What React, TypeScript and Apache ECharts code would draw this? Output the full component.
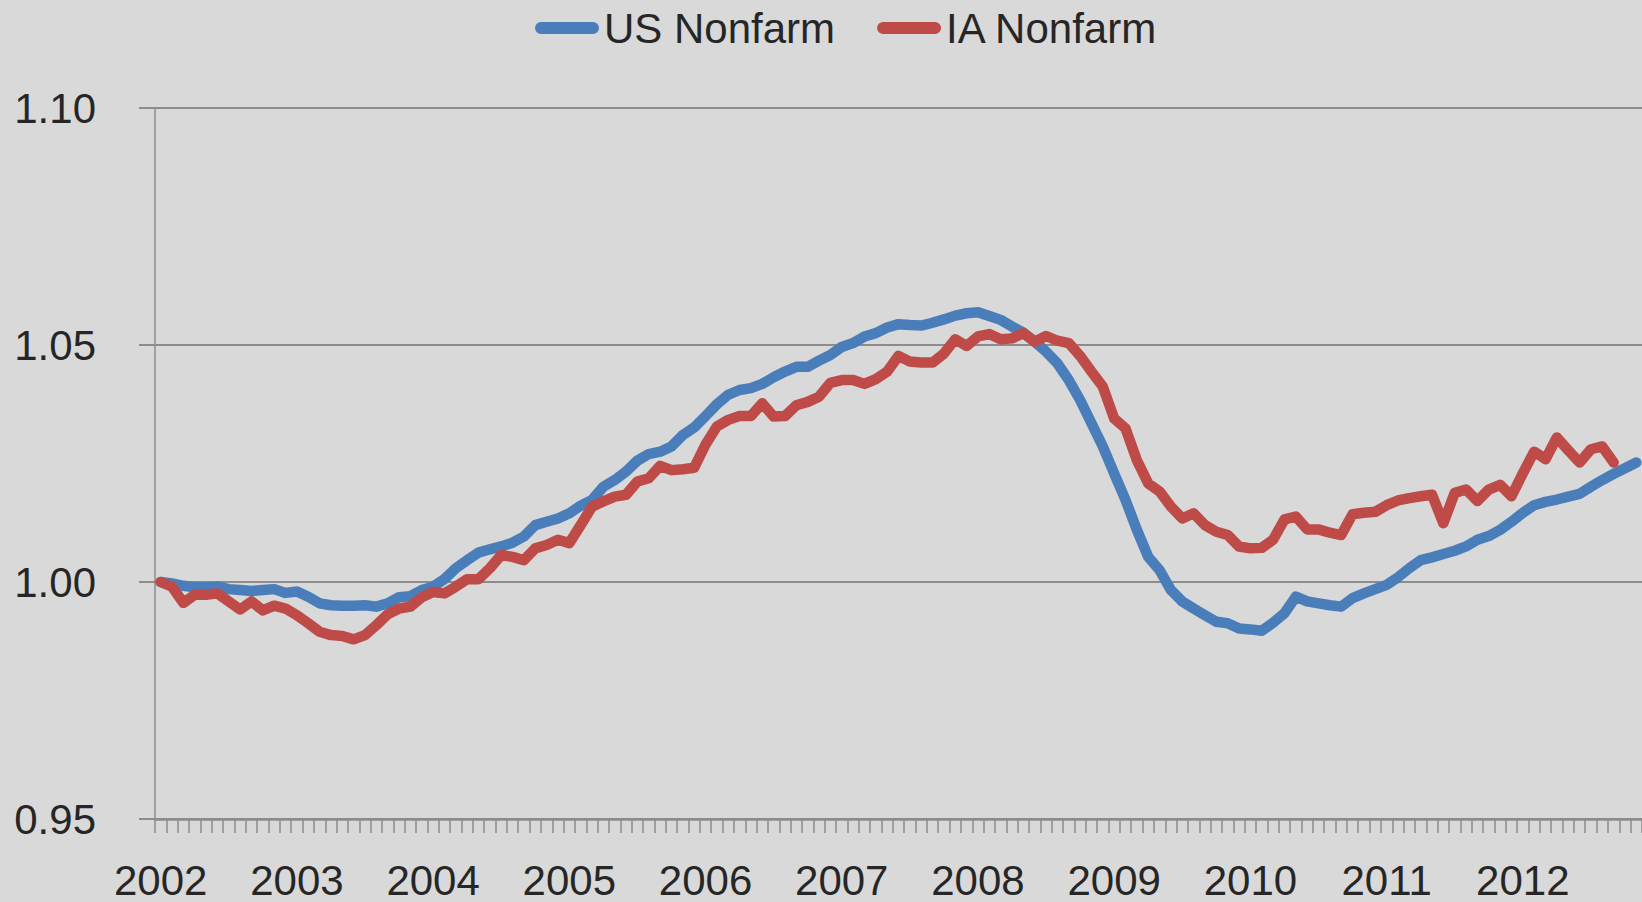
import React, { useEffect, useRef } from "react";
import * as echarts from "echarts";

const YEARS = [2002, 2003, 2004, 2005, 2006, 2007, 2008, 2009, 2010, 2011, 2012];
const MONTHS_IN_LAST_YEAR = 11;

const US_NONFARM = [
  1.0000, 0.9997, 0.9992, 0.9989, 0.9989, 0.9990, 0.9985, 0.9983, 0.9981, 0.9983, 0.9985, 0.9977,
  0.9980, 0.9969, 0.9955, 0.9951, 0.9950, 0.9950, 0.9951, 0.9948, 0.9955, 0.9968, 0.9970, 0.9983,
  0.9990, 1.0006, 1.0029, 1.0046, 1.0062, 1.0069, 1.0075, 1.0083, 1.0096, 1.0120, 1.0127, 1.0134,
  1.0145, 1.0161, 1.0173, 1.0201, 1.0215, 1.0233, 1.0256, 1.0270, 1.0275, 1.0286, 1.0310, 1.0326,
  1.0350, 1.0375, 1.0395, 1.0405, 1.0409, 1.0418, 1.0432, 1.0444, 1.0454, 1.0454, 1.0467, 1.0479,
  1.0496, 1.0504, 1.0518, 1.0525, 1.0537, 1.0544, 1.0542, 1.0541, 1.0547, 1.0554, 1.0562, 1.0567,
  1.0569, 1.0561, 1.0553, 1.0539, 1.0526, 1.0507, 1.0486, 1.0461, 1.0426, 1.0384, 1.0335, 1.0286,
  1.0229, 1.0173, 1.0110, 1.0053, 1.0025, 0.9983, 0.9959, 0.9944, 0.9930, 0.9916, 0.9913, 0.9902,
  0.9900, 0.9897, 0.9914, 0.9934, 0.9969, 0.9959, 0.9955, 0.9951, 0.9948, 0.9966, 0.9976, 0.9985,
  0.9994, 1.0010, 1.0029, 1.0046, 1.0052, 1.0059, 1.0066, 1.0075, 1.0089, 1.0097, 1.0110, 1.0127,
  1.0146, 1.0162, 1.0169, 1.0174, 1.0180, 1.0186, 1.0201, 1.0215, 1.0228, 1.0240, 1.0252,
];

const IA_NONFARM = [
  1.0000, 0.9990, 0.9956, 0.9973, 0.9973, 0.9976, 0.9959, 0.9942, 0.9959, 0.9940, 0.9950, 0.9944,
  0.9930, 0.9913, 0.9895, 0.9888, 0.9886, 0.9879, 0.9888, 0.9909, 0.9932, 0.9944, 0.9948, 0.9968,
  0.9979, 0.9976, 0.9990, 1.0006, 1.0006, 1.0029, 1.0057, 1.0053, 1.0046, 1.0071, 1.0078, 1.0089,
  1.0082, 1.0120, 1.0159, 1.0170, 1.0180, 1.0184, 1.0212, 1.0219, 1.0245, 1.0236, 1.0238, 1.0241,
  1.0290, 1.0328, 1.0342, 1.0350, 1.0350, 1.0377, 1.0349, 1.0350, 1.0373, 1.0380, 1.0391, 1.0420,
  1.0426, 1.0426, 1.0418, 1.0428, 1.0444, 1.0477, 1.0465, 1.0463, 1.0463, 1.0482, 1.0512, 1.0498,
  1.0518, 1.0523, 1.0512, 1.0514, 1.0525, 1.0507, 1.0519, 1.0509, 1.0504, 1.0477, 1.0444, 1.0412,
  1.0345, 1.0324, 1.0257, 1.0208, 1.0191, 1.0159, 1.0134, 1.0145, 1.0120, 1.0106, 1.0099, 1.0075,
  1.0071, 1.0072, 1.0089, 1.0132, 1.0138, 1.0111, 1.0111, 1.0104, 1.0099, 1.0143, 1.0146, 1.0148,
  1.0162, 1.0172, 1.0177, 1.0181, 1.0184, 1.0124, 1.0188, 1.0195, 1.0171, 1.0195, 1.0205, 1.0181,
  1.0229, 1.0275, 1.0259, 1.0305, 1.0278, 1.0252, 1.0280, 1.0286, 1.0252,
];

const Y_MIN = 0.95;
const Y_MAX = 1.1;
const Y_STEP = 0.05;

const CATEGORIES: string[] = [];
YEARS.forEach((y, yi) => {
  const n = yi === YEARS.length - 1 ? MONTHS_IN_LAST_YEAR : 12;
  for (let m = 1; m <= n; m++) CATEGORIES.push(`${y}-${m < 10 ? "0" + m : m}`);
});

const FONT = "'Liberation Sans', Arial, sans-serif";
const TEXT = "#262626";
const AXIS = "#8c8c8c";
const BLUE = "#4a7ebb";
const RED = "#be4b48";

export default function App() {
  const ref = useRef<HTMLDivElement>(null);
  useEffect(() => {
    if (!ref.current) return;
    const chart = echarts.init(ref.current, undefined, { renderer: "svg" });
    const monthW = 11.475;
    const left = 155;
    const right = 1642 - left - monthW * CATEGORIES.length;
    const capsule = "path://M6,0H58A6,6,0,0,1,58,12H6A6,6,0,0,1,6,0Z";
    chart.setOption({
      animation: false,
      backgroundColor: "#d9d9d9",
      textStyle: { fontFamily: FONT },
      legend: {
        left: 530,
        top: 2,
        itemWidth: 64,
        itemHeight: 13,
        itemGap: 42,
        icon: capsule,
        textStyle: { fontSize: 42, color: TEXT, fontFamily: FONT },
        data: [
          { name: "US Nonfarm", icon: capsule, itemStyle: { color: BLUE } },
          { name: "IA Nonfarm", icon: capsule, itemStyle: { color: RED } },
        ],
      },
      grid: { left, right, top: 108, bottom: 83, containLabel: false },
      xAxis: {
        type: "category",
        data: CATEGORIES,
        boundaryGap: true,
        axisLine: { show: true, lineStyle: { color: AXIS, width: 2.5 } },
        axisTick: { show: true, interval: 0, length: 14, lineStyle: { color: AXIS, width: 1.5 } },
        axisLabel: {
          interval: 11,
          margin: 40,
          fontSize: 42,
          color: TEXT,
          fontFamily: FONT,
          formatter: (v: string) => v.slice(0, 4),
        },
        splitLine: { show: false },
      },
      yAxis: {
        type: "value",
        min: Y_MIN,
        max: Y_MAX,
        interval: Y_STEP,
        axisLine: { show: true, lineStyle: { color: AXIS, width: 1.5 } },
        axisTick: { show: true, length: 16, lineStyle: { color: AXIS, width: 2 } },
        axisLabel: {
          margin: 59,
          fontSize: 42,
          color: TEXT,
          fontFamily: FONT,
          formatter: (v: number) => v.toFixed(2),
        },
        splitLine: { show: true, lineStyle: { color: AXIS, width: 2 } },
      },
      series: [
        {
          name: "US Nonfarm",
          type: "line",
          data: US_NONFARM,
          symbol: "none",
          lineStyle: { color: BLUE, width: 10.5, cap: "round", join: "round" },
          itemStyle: { color: BLUE },
        },
        {
          name: "IA Nonfarm",
          type: "line",
          data: IA_NONFARM,
          symbol: "none",
          lineStyle: { color: RED, width: 10.5, cap: "round", join: "round" },
          itemStyle: { color: RED },
        },
      ],
    });
    return () => chart.dispose();
  }, []);
  return (
    <div
      ref={ref}
      style={{ position: "fixed", left: 0, top: 0, width: 1642, height: 902 }}
    />
  );
}
